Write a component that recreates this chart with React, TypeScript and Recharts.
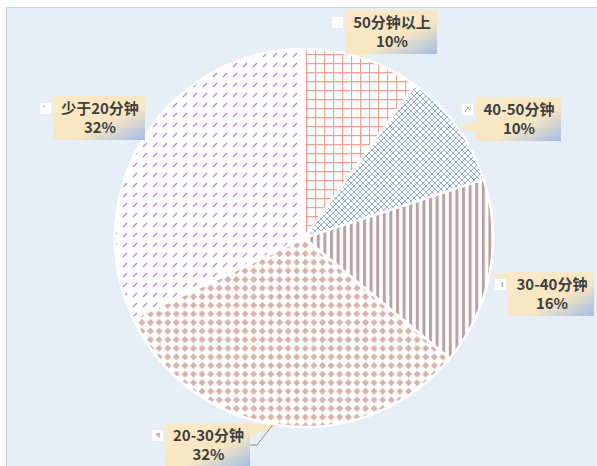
import React from "react";
import { PieChart, Pie, Cell } from "recharts";

// Share of students by time spent
const CATEGORIES = ["50分钟以上", "40-50分钟", "30-40分钟", "20-30分钟", "少于20分钟"];
const SHARES = [10, 10, 16, 32, 32];
const PATTERN_IDS = ["pGrid", "pCross", "pStripe", "pDiamond", "pDash"];

// Callout boxes, offset from the pie center
const LABEL_LAYOUT = [
  { dx: 41, dy: -228, w: 92, pointer: true, leader: false },
  { dx: 171, dy: -141, w: 86, pointer: true, leader: false },
  { dx: 204, dy: 34, w: 86, pointer: true, leader: false },
  { dx: -139, dy: 185, w: 85, pointer: true, leader: true },
  { dx: -251, dy: -142, w: 92, pointer: false, leader: false },
];

const CX = 304;
const CY = 238;
const RADIUS = 189;
const BOX_H = 44;
const RAD = Math.PI / 180;
const FONT = "'Noto Sans CJK SC', 'Noto Sans', sans-serif";

const chartData = CATEGORIES.map((name, i) => ({ name, value: SHARES[i] }));

const Patterns = () => (
  <svg width={0} height={0} style={{ position: "absolute" }}>
    <defs>
      <pattern id="pGrid" patternUnits="userSpaceOnUse" width={9} height={9}>
        <rect width={9} height={9} fill="#fff" />
        <path d="M0 0.5H9M0.5 0V9" stroke="#f3a093" strokeWidth={1.3} />
      </pattern>
      <pattern id="pCross" patternUnits="userSpaceOnUse" width={6} height={6}>
        <rect width={6} height={6} fill="#fff" />
        <path d="M0 0L6 6M6 0L0 6" stroke="#8fafdc" strokeWidth={1} />
      </pattern>
      <pattern id="pStripe" patternUnits="userSpaceOnUse" width={6.6} height={10}>
        <rect width={6.6} height={10} fill="#fff" />
        <rect x={0} width={3} height={10} fill="#b9a2a2" />
      </pattern>
      <pattern id="pDiamond" patternUnits="userSpaceOnUse" width={8.6} height={8.6}>
        <rect width={8.6} height={8.6} fill="#fff" />
        <polygon points="4.3,0.8 7.8,4.3 4.3,7.8 0.8,4.3" fill="#d9b1aa" />
      </pattern>
      <pattern id="pDash" patternUnits="userSpaceOnUse" width={10} height={10}>
        <rect width={10} height={10} fill="#fff" />
        <path d="M3 7L7 3" stroke="#b48ad6" strokeWidth={1.3} />
      </pattern>
      <linearGradient id="boxFill" x1="0" y1="0" x2="1" y2="1">
        <stop offset="0" stopColor="#fbeac8" />
        <stop offset="0.6" stopColor="#f8e6c2" />
        <stop offset="1" stopColor="#a3bde6" />
      </linearGradient>
    </defs>
  </svg>
);

const renderLabel = (props: any) => {
  const { cx, cy, midAngle, outerRadius, index, value, name } = props;
  const layout = LABEL_LAYOUT[index];
  const bx = cx + layout.dx;
  const by = cy + layout.dy;
  const w = layout.w;
  const ax = cx + outerRadius * Math.cos(-midAngle * RAD);
  const ay = cy + outerRadius * Math.sin(-midAngle * RAD);

  // pointer triangle from the box side facing the slice
  let tri = "";
  if (layout.pointer) {
    if (ay > by + BOX_H) {
      const px = Math.min(Math.max(ax, bx + 7), bx + w - 7);
      tri = `${px - 6},${by + BOX_H - 1} ${px + 6},${by + BOX_H - 1} ${ax},${ay}`;
    } else if (ay < by) {
      const px = Math.min(Math.max(ax, bx + 7), bx + w - 7);
      tri = `${px - 6},${by + 1} ${px + 6},${by + 1} ${ax},${ay}`;
    } else if (ax < bx) {
      const py = Math.min(Math.max(ay, by + 7), by + BOX_H - 7);
      tri = `${bx + 1},${py - 6} ${bx + 1},${py + 6} ${ax},${ay}`;
    } else {
      const py = Math.min(Math.max(ay, by + 7), by + BOX_H - 7);
      tri = `${bx + w - 1},${py - 6} ${bx + w - 1},${py + 6} ${ax},${ay}`;
    }
  }

  return (
    <g key={`lbl-${index}`}>
      {tri && <polygon points={tri} fill="#f9e8c4" />}
      {layout.leader && (
        <polyline
          points={`${bx + w},${by + 22} ${bx + w + 7},${by + 22} ${ax - 8},${ay}`}
          fill="none"
          stroke="#8c8c8c"
          strokeWidth={1}
        />
      )}
      <rect x={bx} y={by} width={w} height={BOX_H} fill="url(#boxFill)" />
      <rect x={bx - 13} y={by + 7} width={11} height={11} fill="#fff" />
      <rect x={bx - 10} y={by + 10} width={5} height={5} fill={`url(#${PATTERN_IDS[index]})`} />
      <text x={bx + w / 2 + 1} y={by + 18} textAnchor="middle" fontFamily={FONT} fontWeight="bold" fontSize={15} fill="#404040">
        {name}
      </text>
      <text x={bx + w / 2 + 1} y={by + 37} textAnchor="middle" fontFamily={FONT} fontWeight="bold" fontSize={15} fill="#404040">
        {`${value}%`}
      </text>
    </g>
  );
};

export default function App() {
  return (
    <div style={{ position: "absolute", left: 0, top: 0, width: 597, height: 466, background: "#fff" }}>
      <Patterns />
      <div
        style={{
          position: "absolute",
          left: 6,
          top: 7,
          right: 0,
          bottom: 0,
          background: "#e6eef7",
          borderTop: "1px solid #d6d6d6",
          borderLeft: "1px solid #d6d6d6",
        }}
      />
      <div style={{ position: "absolute", left: 0, top: 0 }}>
        <PieChart width={597} height={466} margin={{ top: 0, right: 0, bottom: 0, left: 0 }}>
          <Pie
            data={chartData}
            dataKey="value"
            nameKey="name"
            cx={CX}
            cy={CY}
            outerRadius={RADIUS}
            startAngle={90}
            endAngle={-270}
            stroke="#fff"
            strokeWidth={2.5}
            label={renderLabel}
            labelLine={false}
            isAnimationActive={false}
          >
            {chartData.map((_, i) => (
              <Cell key={`cell-${i}`} fill={`url(#${PATTERN_IDS[i]})`} />
            ))}
          </Pie>
        </PieChart>
      </div>
    </div>
  );
}
